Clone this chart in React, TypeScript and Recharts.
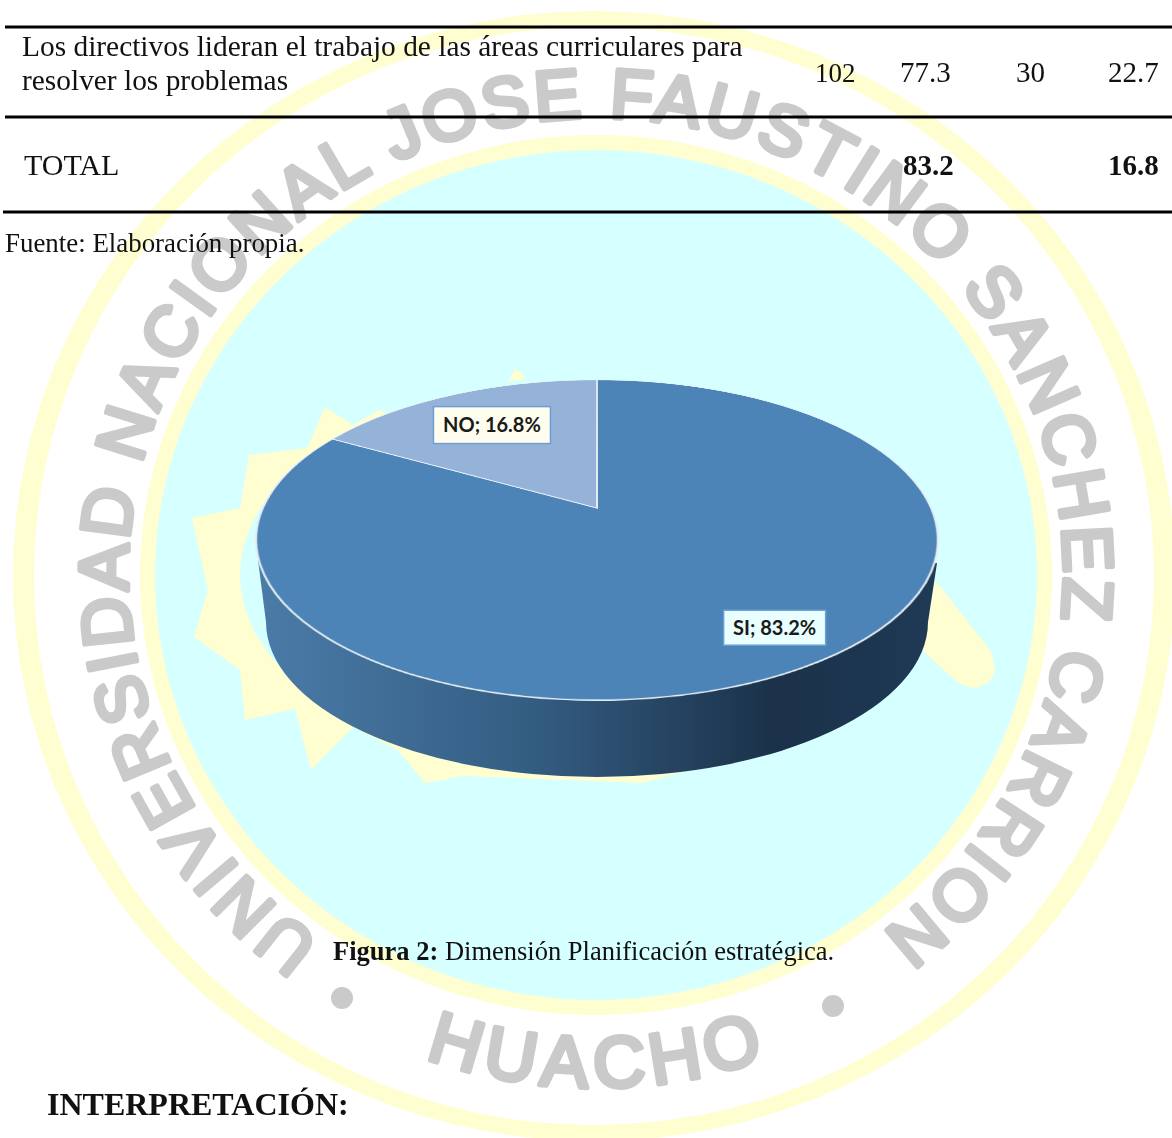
import { PieChart, Pie, Cell } from 'recharts'

const categories = ['SI', 'NO']
const percents = [83.2, 16.8]
const sliceColors = ['#4c84b8', '#95b3d9']

const sealLine = 'UNIVERSIDAD NACIONAL JOSE FAUSTINO SANCHEZ CARRION'
const sealBottom = 'HUACHO'

const chartData = categories.map((name, i) => ({ name, value: percents[i] }))

// tilt of the pie: circle radius 334, seen through a perspective of 5 * R * sin(a)
const RADIUS = 334
const TILT = 62.6
const sinA = Math.sin((TILT * Math.PI) / 180)
const cosA = Math.cos((TILT * Math.PI) / 180)
const PERSPECTIVE = 5 * RADIUS * sinA
const CHART = 800
const PIE_X = 597
const PIE_Y = 508
const NO_MARGIN = { top: 0, right: 0, bottom: 0, left: 0 }

const labelPlacement: Record<string, { ratio: number; dx: number; dy: number; w: number; h: number; fill: string }> = {
  NO: { ratio: 0.7, dx: 0, dy: 0, w: 117, h: 37, fill: '#fffdee' },
  SI: { ratio: 0.78, dx: 26, dy: 0, w: 102, h: 35, fill: '#e9ffff' },
}

const SliceLabel = ({ cx, cy, midAngle, name }: any) => {
  const p = labelPlacement[name]
  const rad = (midAngle * Math.PI) / 180
  const t = -p.ratio * Math.sin(rad)
  const k = 5 / (5 - t)
  const x = cx + RADIUS * p.ratio * Math.cos(rad) * k + p.dx
  const y = cy + RADIUS * cosA * t * k + p.dy
  const value = chartData.find((d) => d.name === name)?.value
  return (
    <g>
      <rect x={x - p.w / 2} y={y - p.h / 2} width={p.w} height={p.h} fill={p.fill} stroke="#6d9fd4" strokeWidth={1.5} />
      <text x={x} y={y + 7} textAnchor="middle" fontFamily="Lato, sans-serif" fontWeight={700} fontSize={20} fill="#1a1a1a">
        {`${name}; ${value}%`}
      </text>
    </g>
  )
}

const sunPoints =
  '516,368 530,382 630,375 700,420 800,470 900,540 930,640 800,740 642,783 463,776 425,783 398,750 353,727 311,770 295,709 245,720 240,670 194,637 208,590 192,518 240,508 249,455 307,448 325,407 353,425 379,410 400,420 470,390 500,395'

const YELLOW = '#fffed0'
const CYAN = '#d6ffff'
const GREY = '#cacaca'

function Seal() {
  const letters = {
    fontFamily: 'Liberation Sans Narrow, Liberation Sans, sans-serif',
    fill: GREY,
    stroke: GREY,
    strokeWidth: 5,
    strokeLinejoin: 'round' as const,
    strokeLinecap: 'round' as const,
  }
  return (
    <svg width={1172} height={1138} style={{ position: 'absolute', left: 0, top: 0 }}>
      <defs>
        <path id="sealArc" d="M 321 941 A 468 455 0 1 1 871 941" fill="none" />
        <path id="sealLow" d="M 425 1058 A 512 512 0 0 0 767 1058" fill="none" />
        <linearGradient id="wall" x1="256" x2="938" y1="0" y2="0" gradientUnits="userSpaceOnUse">
          <stop offset="0" stopColor="#4a7ca8" />
          <stop offset="0.42" stopColor="#335b80" />
          <stop offset="0.76" stopColor="#1b3149" />
          <stop offset="1" stopColor="#1f3a55" />
        </linearGradient>
      </defs>
      <rect width={1172} height={1138} fill="#ffffff" />
      <ellipse cx={594} cy={576} rx={581} ry={565} fill={YELLOW} />
      <ellipse cx={594} cy={576} rx={560} ry={549} fill="#ffffff" />
      <text {...letters} fontSize={70}>
        <textPath href="#sealArc" textLength={2300} lengthAdjust="spacing">
          {sealLine}
        </textPath>
      </text>
      <text {...letters} fontSize={72}>
        <textPath href="#sealLow" textLength={346} lengthAdjust="spacing">
          {sealBottom}
        </textPath>
      </text>
      <circle cx={342} cy={998} r={11} fill={GREY} />
      <circle cx={833} cy={1006} r={11} fill={GREY} />
      <ellipse cx={596} cy={575} rx={456} ry={440} fill={YELLOW} />
      <ellipse cx={596} cy={575} rx={441} ry={425} fill={CYAN} />
      <polygon points={sunPoints} fill={YELLOW} />
      <ellipse cx={597} cy={575} rx={357} ry={200} fill={CYAN} />
      <path d="M 935 580 L 990 650 Q 1003 680 978 687 Q 968 690 955 680 L 922 650 Z" fill={YELLOW} />
      <path d="M 258 560 L 266 622 A 331 155 0 0 0 928 622 L 937 563 Z" fill="url(#wall)" />
    </svg>
  )
}

function PageText() {
  const serif = 'Liberation Serif, serif'
  return (
    <svg width={1172} height={1138} style={{ position: 'absolute', left: 0, top: 0 }}>
      <line x1={5} x2={1172} y1={27} y2={27} stroke="#000" strokeWidth={3} />
      <line x1={5} x2={1172} y1={117} y2={117} stroke="#000" strokeWidth={3} />
      <line x1={3} x2={1172} y1={212} y2={212} stroke="#000" strokeWidth={3} />
      <g fontFamily={serif} fontSize={29} fill="#111">
        <text x={22} y={56} fontSize={29.4}>Los directivos lideran el trabajo de las áreas curriculares para</text>
        <text x={22} y={90} fontSize={29.4}>resolver los problemas</text>
        <text x={815} y={82} fontSize={27}>102</text>
        <text x={900} y={82}>77.3</text>
        <text x={1016} y={82}>30</text>
        <text x={1108} y={82}>22.7</text>
        <text x={24} y={175} fontSize={30}>TOTAL</text>
        <text x={903} y={175} fontWeight={700}>83.2</text>
        <text x={1108} y={175} fontWeight={700}>16.8</text>
      </g>
      <text x={5} y={252} fontFamily={serif} fontSize={26.9} fill="#111">Fuente: Elaboración propia.</text>
      <text x={333} y={960} fontFamily={serif} fontSize={26.5} fill="#111">
        <tspan fontWeight={700}>Figura 2:</tspan> Dimensión Planificación estratégica.
      </text>
      <text x={47} y={1115} fontFamily={serif} fontSize={32} fontWeight={700} fill="#111">INTERPRETACIÓN:</text>
    </svg>
  )
}

export default function App() {
  const box = { position: 'absolute' as const, left: PIE_X - CHART / 2, top: PIE_Y - CHART / 2, width: CHART, height: CHART }
  return (
    <div style={{ position: 'absolute', left: 0, top: 0, width: 1172, height: 1138, overflow: 'hidden', background: '#fff' }}>
      <Seal />
      <div style={{ ...box, transform: `perspective(${PERSPECTIVE}px) rotateX(${TILT}deg)`, transformOrigin: '50% 50%' }}>
        <PieChart width={CHART} height={CHART} margin={NO_MARGIN}>
          <Pie
            data={chartData}
            dataKey="value"
            nameKey="name"
            cx={CHART / 2}
            cy={CHART / 2}
            outerRadius={RADIUS}
            startAngle={450}
            endAngle={90}
            stroke="#e4edf5"
            strokeWidth={2}
            isAnimationActive={false}
          >
            {chartData.map((d, i) => (
              <Cell key={d.name} fill={sliceColors[i]} />
            ))}
          </Pie>
        </PieChart>
      </div>
      <div style={box}>
        <PieChart width={CHART} height={CHART} margin={NO_MARGIN}>
          <Pie
            data={chartData}
            dataKey="value"
            nameKey="name"
            cx={CHART / 2}
            cy={CHART / 2}
            outerRadius={RADIUS}
            startAngle={450}
            endAngle={90}
            fill="none"
            stroke="none"
            label={SliceLabel}
            labelLine={false}
            isAnimationActive={false}
          />
        </PieChart>
      </div>
      <PageText />
    </div>
  )
}
